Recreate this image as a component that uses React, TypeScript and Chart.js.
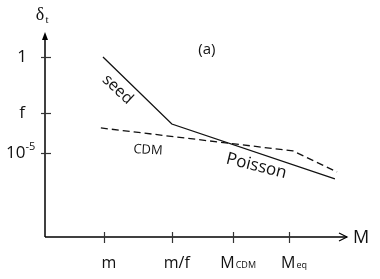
import { useEffect, useRef } from "react";
import { Chart, registerables } from "chart.js";
Chart.register(...registerables);

// Schematic axes in arbitrary units (0..10 on both axes)
const xTickValues = [1.95, 4.2, 6.23, 8.08];
const xTickMain = ["m", "m/f", "M", "M"];
const xTickSub = ["", "", "CDM", "eq"];
const yTickValues = [8.78, 6.05, 4.1];
const yTickMain = ["1", "f", "10"];
const yTickSup = ["", "", "-5"];

const seedX = [1.92, 4.2, 9.6];
const seedY = [8.78, 5.51, 2.83];
const cdmX = [1.85, 8.21, 9.67];
const cdmY = [5.32, 4.2, 3.17];

const notes = [
  { text: "seed", x: 2.4, y: 7.2, angle: 43, size: 16 },
  { text: "CDM", x: 3.41, y: 4.24, angle: 3, size: 13 },
  { text: "Poisson", x: 7.0, y: 3.46, angle: 14, size: 17 },
  { text: "(a)", x: 5.36, y: 9.12, angle: 0, size: 15 },
];

const FONT = '"Open Sans", sans-serif';

const axesPlugin = {
  id: "schematicAxes",
  afterDraw(chart: any) {
    const ctx = chart.ctx as CanvasRenderingContext2D;
    const { left, right, top, bottom } = chart.chartArea;
    const xs = chart.scales.x;
    const ys = chart.scales.y;
    ctx.save();
    ctx.strokeStyle = "#000";
    ctx.fillStyle = "#000";
    ctx.lineWidth = 1.5;
    // y axis with filled arrow
    ctx.beginPath();
    ctx.moveTo(left, bottom);
    ctx.lineTo(left, top + 6);
    ctx.stroke();
    ctx.beginPath();
    ctx.moveTo(left, top);
    ctx.lineTo(left - 3, top + 8);
    ctx.lineTo(left + 3, top + 8);
    ctx.closePath();
    ctx.fill();
    // x axis with open arrow
    ctx.beginPath();
    ctx.moveTo(left, bottom);
    ctx.lineTo(right, bottom);
    ctx.stroke();
    ctx.lineWidth = 1.2;
    ctx.beginPath();
    ctx.moveTo(right - 8, bottom - 4);
    ctx.lineTo(right, bottom);
    ctx.lineTo(right - 8, bottom + 4);
    ctx.stroke();

    // ticks
    ctx.lineWidth = 1.2;
    ctx.strokeStyle = "#333";
    xTickValues.forEach((v) => {
      const px = Math.round(xs.getPixelForValue(v)) + 0.5;
      ctx.beginPath();
      ctx.moveTo(px, bottom - 5);
      ctx.lineTo(px, bottom + 6);
      ctx.stroke();
    });
    yTickValues.forEach((v) => {
      const py = Math.round(ys.getPixelForValue(v)) + 0.5;
      ctx.beginPath();
      ctx.moveTo(left - 4, py);
      ctx.lineTo(left + 6, py);
      ctx.stroke();
    });

    // x tick labels
    ctx.fillStyle = "#111";
    ctx.textBaseline = "alphabetic";
    ctx.textAlign = "left";
    xTickValues.forEach((v, i) => {
      const px = xs.getPixelForValue(v);
      ctx.font = `16px ${FONT}`;
      const w1 = ctx.measureText(xTickMain[i]).width;
      ctx.font = `9px ${FONT}`;
      const w2 = xTickSub[i] ? ctx.measureText(xTickSub[i]).width + 1 : 0;
      const start = px + 5 - (w1 + w2) / 2;
      ctx.font = `16px ${FONT}`;
      ctx.fillText(xTickMain[i], start, bottom + 31);
      if (xTickSub[i]) {
        ctx.font = `9px ${FONT}`;
        ctx.fillText(xTickSub[i], start + w1 + 1, bottom + 31);
      }
    });

    // y tick labels
    yTickValues.forEach((v, i) => {
      const py = ys.getPixelForValue(v);
      ctx.textBaseline = "middle";
      if (yTickSup[i]) {
        ctx.textAlign = "left";
        ctx.font = `17px ${FONT}`;
        const w = ctx.measureText(yTickMain[i]).width;
        ctx.fillText(yTickMain[i], 6, py);
        ctx.font = `11px ${FONT}`;
        ctx.fillText(yTickSup[i], 6 + w, py - 6);
      } else {
        ctx.textAlign = "center";
        ctx.font = `17px ${FONT}`;
        ctx.fillText(yTickMain[i], 22, py);
      }
    });

    // axis titles
    ctx.textAlign = "center";
    ctx.textBaseline = "middle";
    ctx.font = `18px ${FONT}`;
    ctx.fillText("M", right + 14, bottom + 1);
    ctx.font = `18px "Liberation Serif", serif`;
    ctx.fillText("δ", left - 5, 15);
    ctx.font = `11px "Liberation Serif", serif`;
    ctx.fillText("t", left + 2, 20);

    // annotations
    notes.forEach((n) => {
      const px = xs.getPixelForValue(n.x);
      const py = ys.getPixelForValue(n.y);
      ctx.save();
      ctx.translate(px, py);
      ctx.rotate((n.angle * Math.PI) / 180);
      ctx.font = `${n.size}px ${FONT}`;
      ctx.textAlign = "center";
      ctx.textBaseline = "middle";
      ctx.fillText(n.text, 0, 0);
      ctx.restore();
    });
    ctx.restore();
  },
};

export default function App() {
  const ref = useRef<HTMLCanvasElement | null>(null);
  useEffect(() => {
    document.body.style.margin = "0";
    const canvas = ref.current!;
    const chart = new Chart(canvas, {
      type: "line",
      data: {
        datasets: [
          {
            label: "seed",
            data: seedX.map((x, i) => ({ x, y: seedY[i] })),
            borderColor: "#111",
            borderWidth: 1.3,
            pointRadius: 0,
            tension: 0,
          },
          {
            label: "CDM",
            data: cdmX.map((x, i) => ({ x, y: cdmY[i] })),
            borderColor: "#111",
            borderWidth: 1.3,
            borderDash: [7, 4],
            pointRadius: 0,
            tension: 0,
          },
        ],
      },
      options: {
        animation: false,
        responsive: false,
        layout: { padding: { left: 45, right: 33, top: 32, bottom: 42 } },
        plugins: { legend: { display: false }, tooltip: { enabled: false } },
        scales: {
          x: { type: "linear", min: 0, max: 10, display: false },
          y: { type: "linear", min: 0, max: 10, display: false },
        },
      },
      plugins: [axesPlugin],
    });
    return () => chart.destroy();
  }, []);
  return <canvas ref={ref} width={380} height={279} style={{ display: "block" }} />;
}
